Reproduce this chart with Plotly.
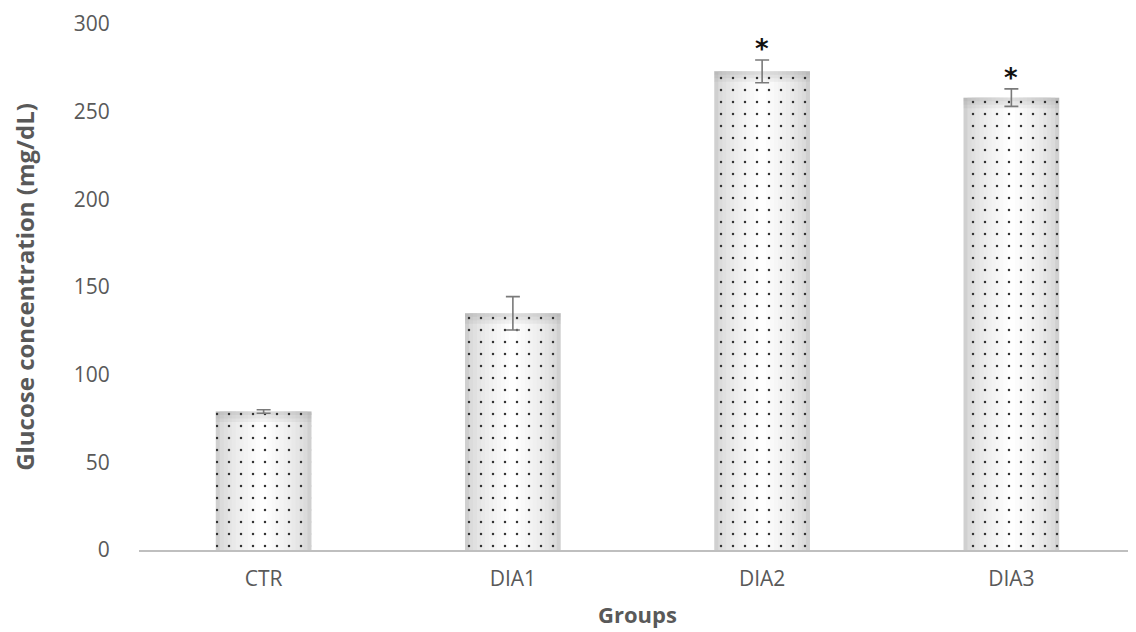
import plotly.graph_objects as go

groups = ["CTR", "DIA1", "DIA2", "DIA3"]
glucose = [79, 135, 273, 258]
sem = [1, 9.5, 6.5, 5]
marks = ["", "", "*", "*"]

fig = go.Figure()

# gradient fill: overlay bars of decreasing width, gray at edges -> white centre
n = 12
full_w = 0.384
for i in range(n):
    t = i / (n - 1)
    w = full_w * (1 - 0.92 * t)
    c = int(208 + (255 - 208) * (t ** 0.6))
    fig.add_trace(go.Bar(x=groups, y=glucose, width=w,
                         marker=dict(color=f"rgb({c},{c},{c})", line=dict(width=0)),
                         hoverinfo="skip", showlegend=False))

# darker band at the top of each bar
for h in [2, 4, 6]:
    fig.add_trace(go.Bar(x=groups, y=[h] * len(glucose), base=[v - h for v in glucose],
                         width=full_w,
                         marker=dict(color="rgba(140,140,140,0.10)", line=dict(width=0)),
                         hoverinfo="skip", showlegend=False))

# dotted pattern with error bars
fig.add_trace(go.Bar(x=groups, y=glucose, width=full_w,
                     marker=dict(color="rgba(0,0,0,0)",
                                 pattern=dict(shape=".", size=12, solidity=0.035,
                                              fgcolor="#333333", bgcolor="rgba(0,0,0,0)",
                                              fillmode="replace"),
                                 line=dict(width=0)),
                     error_y=dict(type="data", array=sem, visible=True,
                                  color="#7a7a7a", thickness=1.6, width=7),
                     showlegend=False))

for g, v, e, m in zip(groups, glucose, sem, marks):
    if m:
        fig.add_annotation(x=g, y=v + e, text="<b>" + m + "</b>", showarrow=False,
                           yanchor="bottom", yshift=-6,
                           font=dict(size=26, color="#111111", family="DejaVu Sans"))

fig.update_layout(
    width=1128, height=624,
    barmode="overlay",
    plot_bgcolor="white", paper_bgcolor="white",
    margin=dict(l=131, r=0, t=16, b=82, autoexpand=False),
    font=dict(family="Open Sans", color="#595959", size=21),
    xaxis=dict(range=[-0.5, 3.5], showline=True, linecolor="#bfbfbf", linewidth=2,
               ticks="outside", ticklen=9, tickcolor="rgba(0,0,0,0)",
               tickfont=dict(size=21, color="#595959"), automargin=False,
               title=dict(text="<b>Groups</b>", font=dict(size=22, color="#595959"), standoff=16)),
    yaxis=dict(range=[0, 300], dtick=50, showgrid=False, zeroline=False, showline=False,
               ticks="outside", ticklen=24, tickcolor="rgba(0,0,0,0)",
               tickfont=dict(size=21, color="#595959"), automargin=False,
               ticklabeloverflow="allow",
               title=dict(text="<b>Glucose concentration (mg/dL)</b>",
                          font=dict(size=24, color="#595959"), standoff=36)),
)

fig.write_html("out.html")
